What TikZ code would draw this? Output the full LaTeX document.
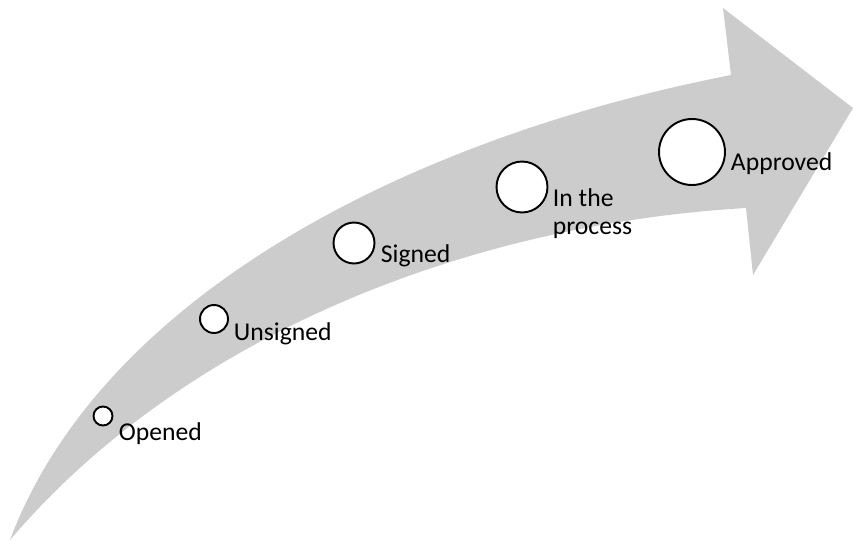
\documentclass[tikz,border=0pt]{standalone}
\usepackage{fontspec}
\setmainfont{Carlito}
\usetikzlibrary{positioning}

\begin{document}
\begin{tikzpicture}[x=0.02cm, y=-0.02cm, line width=1.1pt,
  stage/.style={circle, draw, fill=white, inner sep=0pt},
  lbl/.style={inner sep=0pt, anchor=base west, align=left,
    font=\fontsize{14.6}{15.4}\selectfont}]
  \useasboundingbox (0,0) rectangle (853,541);
  % the big bent arrow
  \fill[gray!40] (10,540) .. controls (100,300) and (400,140) .. (731,75)
    -- (723,8) -- (853,108) -- (753,275) -- (746,208)
    .. controls (460,225) and (180,340) .. (10,540) -- cycle;
  % stages along the arrow
  \node[stage, minimum size=0.38cm] (opened) at (103,416) {};
  \node[stage, minimum size=0.56cm] (unsigned) at (214,319) {};
  \node[stage, minimum size=0.82cm] (signed) at (354,243) {};
  \node[stage, minimum size=1.02cm] (process) at (522,187) {};
  \node[stage, minimum size=1.32cm] (approved) at (692,152) {};
  \node[lbl] (opened-l) at (118,440) {Opened};
  \node[lbl] (unsigned-l) at (233,340) {Unsigned};
  \node[lbl] (signed-l) at (380,262) {Signed};
  \node[lbl] (process-l) at (552,234) {In the\\process};
  \node[lbl] (approved-l) at (730,170) {Approved};
\end{tikzpicture}
\end{document}
